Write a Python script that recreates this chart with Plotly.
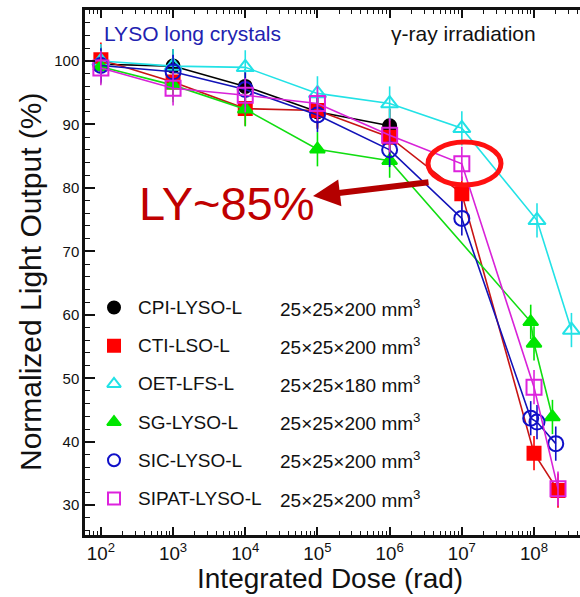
import plotly.graph_objects as go

# ---- measured light output vs. integrated gamma dose ----
cpi_dose = [1e2, 1e3, 1e4, 1e5, 1e6]
cpi_ly = [99.5, 99.2, 96.0, 92.0, 89.8]

cti_dose = [1e2, 1e3, 1e4, 1e5, 1e6, 1e7, 1e8, 2.15e8]
cti_ly = [100.2, 96.7, 92.5, 92.2, 88.0, 79.1, 38.2, 32.3]

oet_dose = [1e2, 1e3, 1e4, 1e5, 1e6, 1e7, 1.1e8, 3.3e8]
oet_ly = [100.0, 99.2, 99.0, 94.9, 93.3, 89.4, 74.9, 57.6]

sg_dose = [1e2, 1e3, 1e4, 1e5, 1e6, 9e7, 1e8, 1.8e8]
sg_ly = [99.1, 96.2, 92.4, 86.1, 84.3, 58.9, 55.5, 43.9]

sic_dose = [1e2, 1e3, 1e4, 1e5, 1e6, 1e7, 9e7, 1.1e8, 2e8]
sic_ly = [99.3, 98.3, 95.5, 91.5, 86.0, 75.2, 43.7, 43.1, 39.7]

sipat_dose = [1e2, 1e3, 1e4, 1e5, 1e6, 1e7, 1e8, 2.15e8]
sipat_ly = [98.9, 95.7, 94.6, 93.3, 88.3, 83.8, 48.6, 32.6]

ly_error = 2.7  # +/- % on every point

names = ["CPI-LYSO-L", "CTI-LSO-L", "OET-LFS-L", "SG-LYSO-L", "SIC-LYSO-L", "SIPAT-LYSO-L"]
sizes = ["25×25×200 mm<sup>3</sup>", "25×25×200 mm<sup>3</sup>", "25×25×180 mm<sup>3</sup>",
         "25×25×200 mm<sup>3</sup>", "25×25×200 mm<sup>3</sup>", "25×25×200 mm<sup>3</sup>"]

FONT = "Liberation Sans, Arial, sans-serif"
W, H = 580, 597
PL, PR, PT, PB = 85, 580, 10, 535  # plot area edges in pixels


def px(x):
    return (x - PL) / (PR - PL)


def py(y):
    return (PB - y) / (PB - PT)


series = [
    (cpi_dose, cpi_ly, "#000000", "#000000", "circle", 13),
    (cti_dose, cti_ly, "#c81414", "#ff0000", "square", 13),
    (oet_dose, oet_ly, "#22e2e6", "#22e2e6", "triangle-up-open", 15),
    (sg_dose, sg_ly, "#11dd11", "#00e600", "triangle-up", 13),
    (sic_dose, sic_ly, "#1212b8", "#1010c8", "circle-open", 15),
    (sipat_dose, sipat_ly, "#d822d8", "#dd22dd", "square-open", 15),
]

fig = go.Figure()
for (dose, ly, lcol, mcol, sym, msz), name in zip(series, names):
    fig.add_trace(go.Scatter(
        x=dose, y=ly, mode="lines+markers", name=name, showlegend=False,
        line=dict(color=lcol, width=1.6),
        marker=dict(symbol=sym, size=msz, color=mcol, line=dict(color=mcol, width=2)),
        error_y=dict(type="constant", value=ly_error, color=mcol, thickness=1.6, width=0),
        cliponaxis=True,
    ))

# legend keys on an overlay axis spanning the plot area in pixel-like units
key_x = 114
row0, row_step = 307.5, 38.2
for i, (s, name, size) in enumerate(zip(series, names, sizes)):
    _, _, lcol, mcol, sym, msz = s
    ry = row0 + i * row_step
    fig.add_trace(go.Scatter(
        x=[px(key_x)], y=[py(ry)], mode="markers", xaxis="x2", yaxis="y2", showlegend=False,
        marker=dict(symbol=sym, size=12, color=mcol, line=dict(color=mcol, width=2)),
        hoverinfo="skip",
    ))
    fig.add_annotation(x=px(136), y=py(ry), xref="paper", yref="paper", text=name,
                       showarrow=False, xanchor="left", yanchor="middle",
                       font=dict(family=FONT, size=19, color="#111111"))
    fig.add_annotation(x=px(278), y=py(ry), xref="paper", yref="paper", text=size,
                       showarrow=False, xanchor="left", yanchor="middle",
                       font=dict(family=FONT, size=19, color="#111111"))

# header texts
fig.add_annotation(x=px(102), y=py(33), xref="paper", yref="paper", text="LYSO long crystals",
                   showarrow=False, xanchor="left", yanchor="middle",
                   font=dict(family=FONT, size=21, color="#2222b0"))
fig.add_annotation(x=px(389), y=py(33), xref="paper", yref="paper", text="γ-ray irradiation",
                   showarrow=False, xanchor="left", yanchor="middle",
                   font=dict(family=FONT, size=21, color="#111111"))

# axis titles
fig.add_annotation(x=px(30), y=py(282), xref="paper", yref="paper",
                   text="Normalized Light Output (%)", textangle=-90, showarrow=False,
                   xanchor="center", yanchor="middle",
                   font=dict(family=FONT, size=30, color="#111111"))
fig.add_annotation(x=px(330), y=py(578), xref="paper", yref="paper",
                   text="Integrated Dose (rad)", showarrow=False,
                   xanchor="center", yanchor="middle",
                   font=dict(family=FONT, size=28, color="#111111"))

# highlight around the SIPAT point at 10^7 rad and the callout
cx, cy, rx, ry_ = 464.5, 163.5, 36.5, 21.5
fig.add_shape(type="circle", xref="paper", yref="paper",
              x0=px(cx - rx), x1=px(cx + rx), y0=py(cy + ry_), y1=py(cy - ry_),
              line=dict(color="#ff1010", width=5))
fig.add_annotation(x=px(313), y=py(196), xref="paper", yref="paper", text="",
                   showarrow=True, arrowhead=2, arrowsize=0.9, arrowwidth=6,
                   arrowcolor="#b40000", ax=117, ay=-14, standoff=0)
fig.add_annotation(x=px(137), y=py(203), xref="paper", yref="paper", text="LY~85%",
                   showarrow=False, xanchor="left", yanchor="middle",
                   font=dict(family=FONT, size=47, color="#c00000"))

axis_font = dict(family=FONT, size=15, color="#111111")
fig.update_layout(
    width=W, height=H,
    margin=dict(l=PL, r=W - PR, t=PT, b=H - PB),
    paper_bgcolor="white", plot_bgcolor="white",
    showlegend=False,
    xaxis=dict(
        type="log", range=[1.78, 8.637], dtick=1, exponentformat="power", showexponent="all",
        ticks="inside", ticklen=8, tickwidth=1.5, tickcolor="#111111",
        minor=dict(ticks="inside", ticklen=4, tickwidth=1.2, tickcolor="#111111", showgrid=False),
        showline=True, linecolor="#111111", linewidth=2.5, mirror="ticks",
        showgrid=False, zeroline=False, tickfont=axis_font,
    ),
    yaxis=dict(
        range=[25.3, 108.04], dtick=10, tick0=0,
        ticks="inside", ticklen=10, tickwidth=1.5, tickcolor="#111111",
        minor=dict(dtick=2, ticks="inside", ticklen=5, tickwidth=1.2, tickcolor="#111111", showgrid=False),
        showline=True, linecolor="#111111", linewidth=2.5,
        showgrid=False, zeroline=False, tickfont=axis_font,
    ),
    xaxis2=dict(overlaying="x", range=[0, 1], visible=False, fixedrange=True),
    yaxis2=dict(overlaying="y", range=[0, 1], visible=False, fixedrange=True),
)

fig.write_html("out.html")
